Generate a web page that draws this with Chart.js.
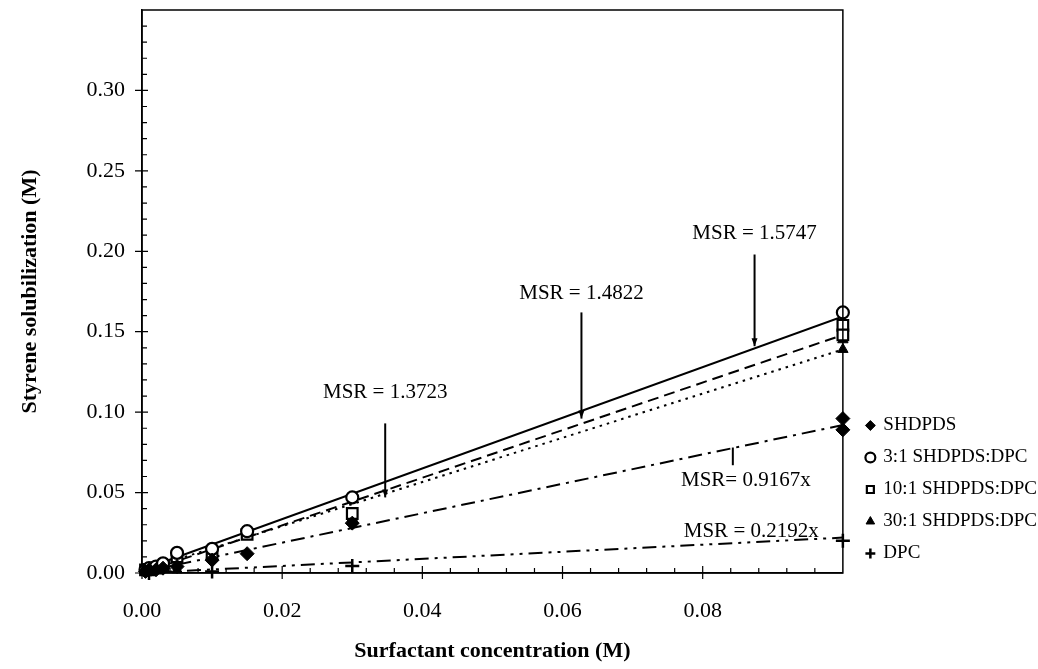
<!DOCTYPE html>
<html>
<head>
<meta charset="utf-8">
<script src="https://cdn.jsdelivr.net/npm/chart.js@4.4.1/dist/chart.umd.min.js"></script>
<style>
html,body{margin:0;padding:0;background:#fff;}
#wrap{width:1038px;height:669px;position:relative;}
</style>
</head>
<body>
<div id="wrap"><canvas id="c" width="1038" height="669"></canvas></div>
<script>
// ---- data ----
const seriesNames = ['SHDPDS', '3:1 SHDPDS:DPC', '10:1 SHDPDS:DPC', '30:1 SHDPDS:DPC', 'DPC'];

const shdpdsX = [0.0005, 0.001, 0.002, 0.003, 0.005, 0.010, 0.015, 0.030, 0.100, 0.100];
const shdpdsY = [0.001, 0.002, 0.002, 0.003, 0.004, 0.008, 0.012, 0.031, 0.096, 0.089];

const r3X = [0.0005, 0.001, 0.002, 0.003, 0.005, 0.010, 0.015, 0.030, 0.100];
const r3Y = [0.002, 0.003, 0.004, 0.006, 0.0125, 0.015, 0.026, 0.047, 0.162];

const r10X = [0.0005, 0.001, 0.002, 0.003, 0.005, 0.010, 0.015, 0.030, 0.100, 0.100];
const r10Y = [0.002, 0.002, 0.003, 0.004, 0.010, 0.012, 0.024, 0.037, 0.154, 0.148];

const r30X = [0.0005, 0.001, 0.002, 0.003, 0.005, 0.010, 0.030, 0.100, 0.100];
const r30Y = [0.001, 0.001, 0.002, 0.003, 0.002, 0.0106, 0.034, 0.145, 0.139];

const dpcX = [0.001, 0.010, 0.030, 0.100];
const dpcY = [0.000, 0.001, 0.0044, 0.020];

// regression (MSR) lines, end points
const fitX = [0.001, 0.100];
const fit3Y = [0.0036, 0.1595];
const fit10Y = [0.0015, 0.148];
const fit30Y = [0.003, 0.139];
const fitShY = [0.0015, 0.092];
const fitDpcY = [0.0002, 0.022];

const msrLabels = ['MSR = 1.5747', 'MSR = 1.4822', 'MSR = 1.3723', 'MSR= 0.9167x', 'MSR = 0.2192x'];

const xTickLabels = [0.00, 0.02, 0.04, 0.06, 0.08];
const yTickLabels = [0.00, 0.05, 0.10, 0.15, 0.20, 0.25, 0.30];

// ---- helpers ----
const FONT = "'Liberation Serif', 'DejaVu Serif', serif";
const pts = (xs, ys) => xs.map((x, i) => ({x: x, y: ys[i]}));

function marker(label, xs, ys, style, fill, radius, bw) {
  return {
    type: 'scatter', label: label, data: pts(xs, ys),
    pointStyle: style, pointRadius: radius, pointHoverRadius: radius,
    backgroundColor: fill, borderColor: '#000', borderWidth: bw,
    pointBackgroundColor: fill, pointBorderColor: '#000', pointBorderWidth: bw,
    showLine: false, clip: false, order: 0
  };
}
function fitLine(label, ys, dash) {
  return {
    type: 'line', label: label, data: pts(fitX, ys),
    borderColor: '#000', borderWidth: 2, borderDash: dash,
    pointRadius: 0, showLine: true, fill: false, tension: 0, order: 5
  };
}

// ---- plugins ----
const frameTicks = {
  id: 'frameTicks',
  afterDatasetsDraw(chart) {
    const {ctx, chartArea: a, scales: {x, y}} = chart;
    ctx.save();
    ctx.strokeStyle = '#000';
    ctx.lineWidth = 1.5;
    ctx.strokeRect(a.left, a.top, a.right - a.left, a.bottom - a.top);
    ctx.lineWidth = 1.2;
    ctx.beginPath();
    for (let i = 0; i <= 35; i++) {
      const py = y.getPixelForValue(i / 100);
      if (py < a.top + 1) continue;
      if (i % 5 === 0) { ctx.moveTo(a.left - 7, py); ctx.lineTo(a.left + 6, py); }
      else { ctx.moveTo(a.left, py); ctx.lineTo(a.left + 5, py); }
    }
    for (let i = 0; i <= 25; i++) {
      const px = x.getPixelForValue(i * 0.004);
      if (px > a.right - 1) continue;
      if (i % 5 === 0) { ctx.moveTo(px, a.bottom + 6); ctx.lineTo(px, a.bottom - 7); }
      else { ctx.moveTo(px, a.bottom); ctx.lineTo(px, a.bottom - 5); }
    }
    ctx.stroke();
    ctx.restore();
  }
};

const msrNotes = {
  id: 'msrNotes',
  afterDatasetsDraw(chart, args, opts) {
    const {ctx, scales: {x, y}} = chart;
    ctx.save();
    ctx.fillStyle = '#000';
    ctx.strokeStyle = '#000';
    ctx.font = '21px ' + FONT;
    ctx.textBaseline = 'middle';
    opts.notes.forEach((n, i) => {
      ctx.textAlign = n.align;
      ctx.fillText(msrLabels[i], x.getPixelForValue(n.tx), y.getPixelForValue(n.ty));
      if (n.ax !== undefined) {
        const ax = x.getPixelForValue(n.ax);
        const y1 = y.getPixelForValue(n.y1), y2 = y.getPixelForValue(n.y2);
        ctx.lineWidth = 2;
        ctx.beginPath(); ctx.moveTo(ax, y1); ctx.lineTo(ax, y2); ctx.stroke();
        if (n.head) {
          ctx.beginPath();
          ctx.moveTo(ax - 3, y2 - 8); ctx.lineTo(ax, y2); ctx.lineTo(ax + 3, y2 - 8);
          ctx.closePath(); ctx.fill();
        }
      }
    });
    ctx.restore();
  }
};

const legendShift = {
  id: 'legendShift',
  afterLayout(chart) {
    const lg = chart.legend;
    if (!lg) return;
    const dx = chart.chartArea.right + 11 - lg.left;
    lg.left += dx; lg.right += dx;
    const dy = (chart.chartArea.bottom + 3) - lg.bottom;
    lg.top += dy; lg.bottom += dy;
  }
};

// ---- chart ----
new Chart(document.getElementById('c'), {
  type: 'scatter',
  data: {
    datasets: [
      marker(seriesNames[0], shdpdsX, shdpdsY, 'rectRot', '#000', 7, 1),
      marker(seriesNames[1], r3X, r3Y, 'circle', '#fff', 6, 2.2),
      marker(seriesNames[2], r10X, r10Y, 'rect', '#fff', 7.5, 2.2),
      marker(seriesNames[3], r30X, r30Y, 'triangle', '#000', 6, 1),
      marker(seriesNames[4], dpcX, dpcY, 'cross', '#000', 7, 2.5),
      fitLine('fit 3:1', fit3Y, []),
      fitLine('fit 10:1', fit10Y, [11, 6]),
      fitLine('fit 30:1', fit30Y, [2.5, 5]),
      fitLine('fit SHDPDS', fitShY, [14, 6, 3, 6]),
      fitLine('fit DPC', fitDpcY, [14, 6, 3, 6, 3, 6])
    ]
  },
  options: {
    responsive: false,
    animation: false,
    devicePixelRatio: 1,
    layout: {padding: {top: 10, right: 2, bottom: 0, left: 0}},
    plugins: {
      tooltip: {enabled: false},
      legend: {
        display: true,
        position: 'right',
        align: 'end',
        labels: {
          usePointStyle: true,
          boxWidth: 7, boxHeight: 7,
          padding: 13,
          color: '#000',
          font: {family: FONT, size: 19},
          filter: (item) => item.datasetIndex < 5
        }
      },
      msrNotes: {
        notes: [
          {tx: 0.0874, ty: 0.211, align: 'center', ax: 0.0874, y1: 0.198, y2: 0.141, head: true},
          {tx: 0.0627, ty: 0.174, align: 'center', ax: 0.0627, y1: 0.162, y2: 0.096, head: true},
          {tx: 0.0347, ty: 0.1125, align: 'center', ax: 0.0347, y1: 0.093, y2: 0.047, head: true},
          {tx: 0.0769, ty: 0.0575, align: 'left', ax: 0.0843, y1: 0.078, y2: 0.067, head: false},
          {tx: 0.0773, ty: 0.026, align: 'left'}
        ]
      }
    },
    scales: {
      x: {
        type: 'linear', min: 0, max: 0.1,
        grid: {display: false, drawTicks: false},
        border: {display: true, color: '#000', width: 1.5},
        afterBuildTicks: (s) => { s.ticks = xTickLabels.map(v => ({value: v})); },
        afterFit: (s) => { s.height = 96; s.paddingLeft = 0; s.paddingRight = 0; },
        ticks: {
          padding: 25, color: '#000', font: {family: FONT, size: 22},
          maxRotation: 0, autoSkip: false,
          callback: (v) => Number(v).toFixed(2)
        },
        title: {
          display: true, text: 'Surfactant concentration (M)', color: '#000',
          font: {family: FONT, size: 22, weight: 'bold'}, padding: {top: 4, bottom: 4}
        }
      },
      y: {
        type: 'linear', min: 0, max: 0.35,
        grid: {display: false, drawTicks: false},
        border: {display: true, color: '#000', width: 1.5},
        afterBuildTicks: (s) => { s.ticks = yTickLabels.map(v => ({value: v})); },
        afterFit: (s) => { s.width = 142; s.paddingTop = 0; s.paddingBottom = 0; },
        ticks: {
          padding: 17, color: '#000', font: {family: FONT, size: 22},
          autoSkip: false,
          callback: (v) => Number(v).toFixed(2)
        },
        title: {
          display: true, text: 'Styrene solubilization (M)', color: '#000',
          font: {family: FONT, size: 22, weight: 'bold'}, padding: {top: 17, bottom: 0}
        }
      }
    }
  },
  plugins: [frameTicks, msrNotes, legendShift]
});
</script>
</body>
</html>
